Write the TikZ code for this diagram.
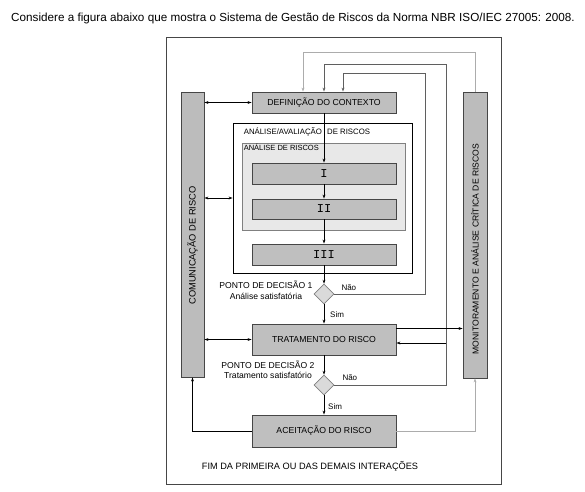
\documentclass[tikz,border=0pt]{standalone}
\usepackage{fontspec}
\setmainfont{Liberation Sans}
\newfontfamily\romanfont{Liberation Mono}
\usetikzlibrary{positioning,shapes.geometric,arrows.meta}
\definecolor{boxgray}{RGB}{191,191,191}
\definecolor{colgray}{RGB}{188,188,188}
\definecolor{innergray}{RGB}{232,232,232}
\definecolor{diagray}{RGB}{218,218,218}
\definecolor{edgegray}{RGB}{70,70,70}
\definecolor{loopgray}{RGB}{95,95,95}
\definecolor{palegray}{RGB}{172,172,172}

\begin{document}
\begin{tikzpicture}[x=1pt, y=-1pt, >={Stealth[length=4pt,width=2.8pt]},
    procbox/.style={draw=edgegray, fill=boxgray, line width=0.8pt, minimum width=144pt, inner sep=0pt, font=\fontsize{8.7}{10}\selectfont},
    romanbox/.style={procbox, minimum height=21pt, font=\romanfont\fontsize{12}{12}\selectfont},
    sidecol/.style={draw=edgegray, fill=colgray, line width=0.8pt, minimum width=23pt, minimum height=285pt, inner sep=0pt},
    coltext/.style={rotate=90, inner sep=0pt, font=\fontsize{#1}{10}\selectfont},
    decpoint/.style={diamond, draw=gray, fill=diagray, line width=0.6pt, minimum width=20pt, minimum height=20pt, inner sep=0pt},
    dectext/.style={align=center, inner sep=0pt, font=\fontsize{8.6}{10.5}\selectfont},
    answer/.style={anchor=west, inner sep=0pt, font=\fontsize{8}{9}\selectfont},
    seclabel/.style={anchor=west, inner sep=0pt, font=\fontsize{7.8}{9}\selectfont},
    flow/.style={line width=0.7pt},
    loopline/.style={flow, draw=loopgray},
    paleline/.style={flow, draw=palegray}]
    \useasboundingbox (0,0) rectangle (585,491);

    % enunciado
    \node[anchor=west, inner sep=0pt, font=\fontsize{11.7}{13}\selectfont] (title) at (11,18) {Considere a figura abaixo que mostra o Sistema de Gestão de Riscos da Norma NBR ISO/IEC 27005: 2008.};
    \draw[draw=edgegray, line width=0.8pt] (166,37) rectangle (501,484);

    % colunas laterais
    \node[sidecol] (comun) at (192.5,234.5) {};
    \node[coltext=9.3] (comuntxt) at (192.5,245.5) {COMUNICAÇÃO DE RISCO};
    \node[sidecol, minimum width=24pt, minimum height=286pt] (monit) at (475,235) {};
    \node[coltext=8.6] (monittxt) at (475,249) {MONITORAMENTO E ANÁLISE CRÍTICA DE RISCOS};

    % processo
    \node[procbox, minimum height=21pt] (defin) at (324,102.5) {DEFINIÇÃO DO CONTEXTO};
    \node[draw=black, fill=white, line width=0.8pt, minimum width=179pt, minimum height=150pt, inner sep=0pt] (avalbox) at (322.5,198) {};
    \node[seclabel, xshift=11pt, yshift=-9pt] (avaltxt) at (avalbox.north west) {ANÁLISE/AVALIAÇÃO\hspace{3pt} DE RISCOS};
    \node[draw=gray, fill=innergray, line width=0.8pt, minimum width=163pt, minimum height=87pt, inner sep=0pt] (analbox) at (323.5,186.5) {};
    \node[seclabel, font=\fontsize{7.5}{8}\selectfont, xshift=2pt, yshift=-5pt] (analtxt) at (analbox.north west) {ANÁLISE DE RISCOS};
    \node[romanbox] (boxI) at (324,173.5) {I};
    \node[romanbox, minimum height=20pt] (boxII) at (324,209) {II};
    \node[romanbox] (boxIII) at (324,254.5) {III};

    \node[decpoint] (dec1) at (324,294) {};
    \node[dectext, anchor=east, xshift=-1pt, yshift=3.5pt] (dec1txt) at (dec1.west) {PONTO DE DECISÃO 1\\Análise satisfatória};
    \node[answer, xshift=7pt, yshift=6pt] (dec1no) at (dec1.east) {Não};
    \node[answer, xshift=6pt, yshift=-10pt] (dec1yes) at (dec1.south) {Sim};

    \node[procbox, minimum height=31pt] (trat) at (324,339.5) {TRATAMENTO DO RISCO};

    \node[decpoint] (dec2) at (324,385) {};
    \node[dectext, anchor=east, xshift=1pt, yshift=15pt] (dec2txt) at (dec2.west) {PONTO DE DECISÃO 2\\Tratamento satisfatório};
    \node[answer, xshift=8pt, yshift=7pt] (dec2no) at (dec2.east) {Não};
    \node[answer, xshift=4pt, yshift=-11pt] (dec2yes) at (dec2.south) {Sim};

    \node[procbox, minimum height=32pt] (aceit) at (324,431) {ACEITAÇÃO DO RISCO};
    \node[inner sep=0pt, font=\fontsize{9.2}{10}\selectfont] (fim) at (310,466) {FIM DA PRIMEIRA OU DAS DEMAIS INTERAÇÕES};

    % fluxo principal
    \draw[flow, ->] (defin) -- (boxI);
    \draw[flow, ->] (boxI) -- (boxII);
    \draw[flow, ->] (boxII) -- (boxIII);
    \draw[flow, ->] (boxIII) -- (dec1);
    \draw[flow, ->] (dec1) -- (trat);
    \draw[flow, ->] (trat) -- (dec2);
    \draw[flow, ->] (dec2) -- (aceit);

    % comunicacao
    \draw[flow, <->] (comun.east |- defin.west) -- (defin.west);
    \draw[flow, <->] (comun.east |- avalbox.west) -- (avalbox.west);
    \draw[flow, <->] (comun.east |- trat.west) -- (trat.west);
    \draw[flow, ->] (aceit.west) -| (comun.south);

    % retornos
    \coordinate (loopI) at (425,73);
    \coordinate (loopII) at (446,64);
    \coordinate (loopIII) at (475,52);
    \coordinate (tratout) at ([yshift=11pt]trat.east);
    \coordinate (tratin) at ([yshift=-3.5pt]trat.east);
    \draw[loopline, ->] (dec1.east) -| (loopI) -| ([xshift=19pt]defin.north);
    \draw[loopline, ->] (dec2.east) -| (loopII) -| (defin.north);
    \draw[paleline, ->] (monit.north) -- (loopIII) -| ([xshift=-21pt]defin.north);
    \draw[flow, ->] (tratout) -- (tratout -| monit.west);
    \draw[flow, ->] (tratin -| loopII) -- (tratin);
    \draw[paleline, ->] (aceit.east) -| (monit.south);
\end{tikzpicture}
\end{document}
